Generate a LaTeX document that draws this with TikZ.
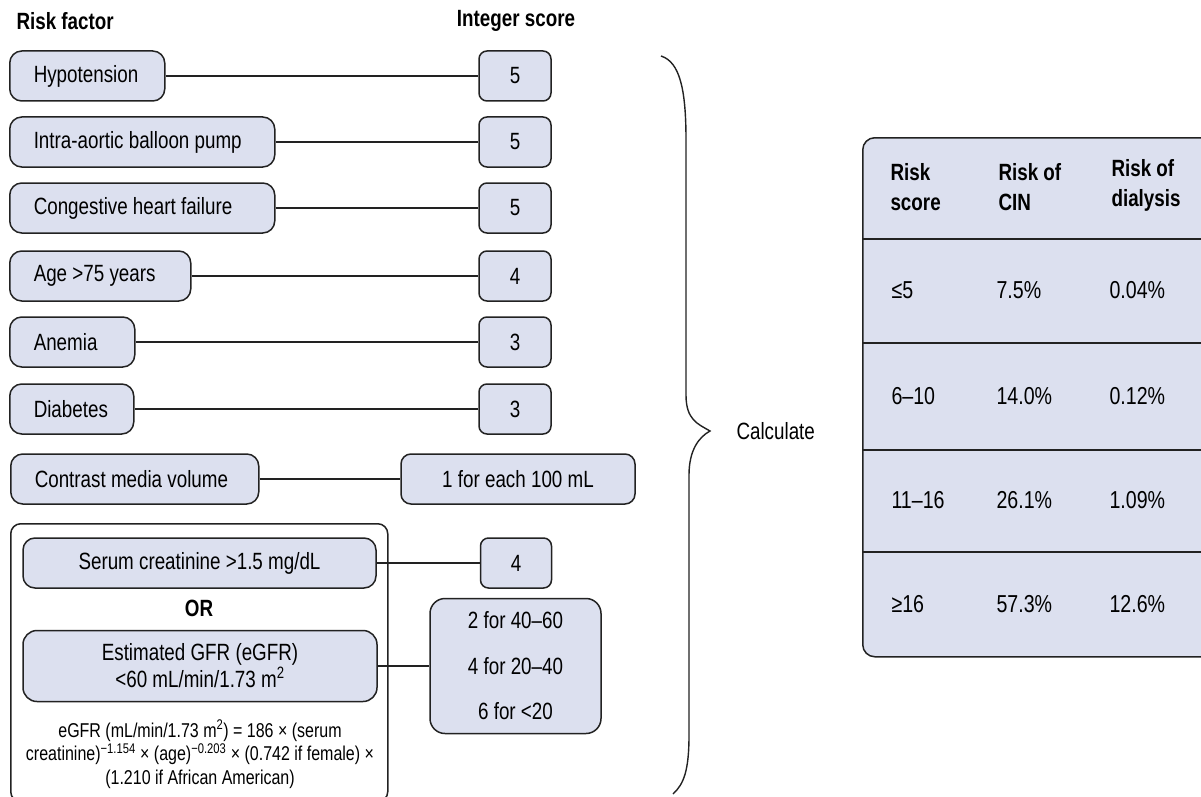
\documentclass[tikz,border=0pt]{standalone}
\usepackage{fontspec}
\setmainfont{Liberation Sans}[FakeStretch=0.8]
\usepackage{tikz}
\definecolor{boxfill}{RGB}{220,224,239}
\definecolor{boxline}{RGB}{34,34,34}

\begin{document}
\begin{tikzpicture}[x=1pt, y=-1pt,
	every node/.style = {font=\fontsize{23.5}{27}\selectfont},
	box/.style = {draw=boxline, line width=1.5pt, fill=boxfill},
	factor/.style = {box, rounded corners=12pt, anchor=west,
		minimum height=50pt, inner xsep=24pt, align=flush left,
		execute at begin node=\spaceskip0pt\xspaceskip0pt\relax},
	score/.style = {box, rounded corners=8pt, minimum height=50pt,
		minimum width=72pt, align=center},
	head/.style = {font=\bfseries\fontsize{23.5}{30}\selectfont},
	cell/.style = {anchor=west, font=\fontsize{24.5}{28}\selectfont},
	link/.style = {draw=boxline, line width=1.3pt}]
	\useasboundingbox (0,0) rectangle (1201,797);
	\clip (0,0) rectangle (1201,797);

	\node[head, anchor=west] (riskhead) at (13,21) {Risk factor};
	\node[head] (scorehead) at (516,21) {Integer score};

	\node[factor, text width=107pt] (hypo) at (9,76) {Hypotension};
	\node[factor, text width=217pt] (iabp) at (9,142) {Intra-aortic balloon pump};
	\node[factor, text width=217pt] (chf) at (9,208) {Congestive heart failure};
	\node[factor, text width=133pt] (age) at (9,276) {Age >75 years};
	\node[factor, text width=77pt] (anemia) at (9,342) {Anemia};
	\node[factor, text width=76pt] (diab) at (9,409) {Diabetes};
	\node[factor, text width=200pt] (contrast) at (10,479) {Contrast media volume};

	\node[score] (s1) at (515,76) {5};
	\node[score] (s2) at (515,142) {5};
	\node[score] (s3) at (515,208) {5};
	\node[score] (s4) at (515,276) {4};
	\node[score] (s5) at (515,342) {3};
	\node[score] (s6) at (515,409) {3};
	\node[score, minimum width=234pt, rounded corners=10pt] (s7) at (518,479) {1 for each 100 mL};

	% renal function group
	\node[draw=boxline, line width=1.5pt, rounded corners=10pt, anchor=north west,
		minimum width=377pt, minimum height=278pt] (group) at (10,523) {};
	\node[box, rounded corners=12pt, minimum width=353pt, minimum height=50pt] (serum) at (199.5,563) {Serum creatinine >1.5 mg/dL};
	\node[score, minimum width=71pt] (s8) at (516,563) {4};
	\node[font=\bfseries\fontsize{23.5}{27}\selectfont] (or) at (199,608) {OR};
	\node[box, rounded corners=14pt, minimum width=354pt, minimum height=71pt, align=center] (egfr) at (200,666)
		{Estimated GFR (eGFR)\\<60 mL/min/1.73 m\textsuperscript{2}};
	\node[box, rounded corners=15pt, minimum width=171pt, minimum height=135pt, align=center,
		font=\fontsize{23.5}{45.5}\selectfont] (s9) at (515.5,666) {2 for 40–60\\4 for 20–40\\6 for <20};
	\node[align=center, font=\fontsize{20}{23.5}\selectfont] (formula) at (200,754)
		{eGFR (mL/min/1.73 m\textsuperscript{2}) = 186 × (serum\\creatinine)\textsuperscript{−1.154} × (age)\textsuperscript{−0.203} × (0.742 if female) ×\\(1.210 if African American)};

	\foreach \f/\s in {hypo/s1, iabp/s2, chf/s3, age/s4, anemia/s5, diab/s6, contrast/s7, serum/s8, egfr/s9}
		\draw[link] (\f) -- (\s);

	% brace
	\coordinate (tip) at (710,431);
	\draw[link, line width=1.4pt] (661,56) .. controls (680,62) and (686,90) .. (686,140) -- (686,395)
		.. controls (686,420) and (698,424) .. (tip) .. controls (699,437) and (689,450) .. (689,475)
		-- (689,735) .. controls (689,770) and (684,784) .. (673,794);
	\node[anchor=west] (calc) at (733,431) {Calculate};

	% risk table
	\node[box, rounded corners=12pt, anchor=north west, minimum width=363pt, minimum height=519pt] (table) at (862,137) {};
	\foreach \y in {239,343,450,552}
		\draw[link] (table.west |- 0,\y) -- (table.east |- 0,\y);
	\node[head, anchor=west, align=left] (h1) at (887,187) {Risk\\score};
	\node[head, anchor=west, align=left] (h2) at (995,187) {Risk of\\CIN};
	\node[head, anchor=west, align=left] (h3) at (1108,185) {Risk of\\dialysis};
	\foreach \y/\a/\b/\c [count=\i] in {290/≤5/7.5\%/0.04\%, 396/6–10/14.0\%/0.12\%,
		500/11–16/26.1\%/1.09\%, 604/≥16/57.3\%/12.6\%} {
		\node[cell] (band\i) at (888,\y) {\a};
		\node[cell] (cin\i) at (993,\y) {\b};
		\node[cell] (dial\i) at (1106,\y) {\c};
	}
\end{tikzpicture}
\end{document}
